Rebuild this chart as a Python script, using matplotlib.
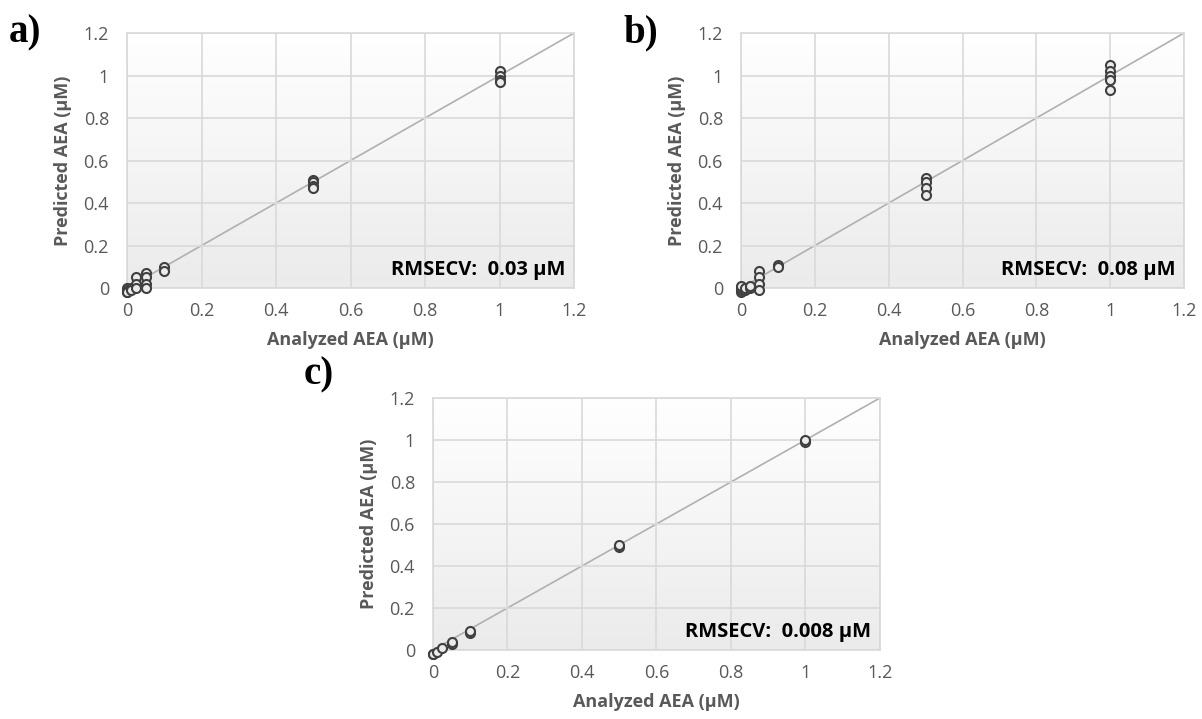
import matplotlib.pyplot as plt
import numpy as np

# Values (analyzed vs predicted AEA, in µM)
a_x = [0, 0, 0, 0, 0.01, 0.01, 0.025, 0.025, 0.025, 0.05, 0.05, 0.05, 0.05, 0.1, 0.1,
       0.5, 0.5, 0.5, 0.5, 1, 1, 1, 1]
a_y = [0.0, -0.01, -0.02, -0.02, 0.0, -0.01, 0.05, 0.02, 0.0, 0.07, 0.05, 0.02, 0.0, 0.1, 0.08,
       0.51, 0.5, 0.48, 0.47, 1.02, 1.0, 0.98, 0.97]

b_x = [0, 0, 0, 0, 0.01, 0.01, 0.025, 0.025, 0.05, 0.05, 0.05, 0.05, 0.1, 0.1,
       0.5, 0.5, 0.5, 0.5, 1, 1, 1, 1, 1]
b_y = [-0.02, -0.01, 0.0, 0.01, -0.01, 0.0, 0.0, 0.01, 0.08, 0.05, 0.02, -0.01, 0.11, 0.1,
       0.52, 0.5, 0.47, 0.44, 1.05, 1.02, 1.0, 0.98, 0.93]

c_x = [0, 0, 0.01, 0.025, 0.05, 0.05, 0.1, 0.1, 0.5, 0.5, 1, 1]
c_y = [-0.02, -0.02, -0.01, 0.01, 0.03, 0.04, 0.08, 0.09, 0.49, 0.5, 0.99, 1.0]

rmsecv = ['RMSECV:  0.03 µM', 'RMSECV:  0.08 µM', 'RMSECV:  0.008 µM']
panel_labels = ['a)', 'b)', 'c)']
ticks = [0, 0.2, 0.4, 0.6, 0.8, 1, 1.2]
tick_labels = ['0', '0.2', '0.4', '0.6', '0.8', '1', '1.2']

plt.rcParams['font.family'] = ['Open Sans', 'DejaVu Sans']

fig = plt.figure(figsize=(12.02, 7.19), dpi=100)
positions = [
    [0.1057, 0.5994, 0.3719, 0.3547],
    [0.6165, 0.5994, 0.3686, 0.3547],
    [0.3602, 0.0960, 0.3719, 0.3505],
]
label_pos = [(-0.265, 1.0), (-0.265, 1.0), (-0.29, 1.09)]
data = [(a_x, a_y), (b_x, b_y), (c_x, c_y)]

grad = np.linspace(1, 0, 256).reshape(-1, 1)
grey = '#595959'
cmap = plt.cm.colors.LinearSegmentedColormap.from_list('g', ['#ebebeb', '#ffffff'])

for i, (pos, (xs, ys)) in enumerate(zip(positions, data)):
    ax = fig.add_axes(pos)
    ax.imshow(grad, extent=[0, 1, 0, 1], transform=ax.transAxes, aspect='auto',
              cmap=cmap, zorder=0)
    ax.set_xlim(0, 1.2)
    ax.set_ylim(0, 1.2)
    ax.set_xticks(ticks)
    ax.set_yticks(ticks)
    ax.set_xticklabels(tick_labels)
    ax.set_yticklabels(tick_labels)
    ax.tick_params(length=0, labelsize=13, labelcolor=grey)
    ax.tick_params(axis='x', pad=10)
    ax.tick_params(axis='y', pad=13)
    ax.grid(True, color='#d9d9d9', linewidth=1.2, zorder=1)
    ax.set_axisbelow(False)
    for s in ax.spines.values():
        s.set_color('#d9d9d9')
        s.set_linewidth(1.2)
    ax.plot([0, 1.2], [0, 1.2], color='#b0b0b0', linewidth=1.2, zorder=2)
    ax.plot(xs, ys, linestyle='none', marker='o', markersize=6.5,
            markerfacecolor='#ececec', markeredgecolor='#404040',
            markeredgewidth=1.5, clip_on=False, zorder=3)
    ax.set_xlabel('Analyzed AEA (µM)', fontsize=13, fontweight='bold', color=grey, labelpad=8)
    ax.set_ylabel('Predicted AEA (µM)', fontsize=13, fontweight='bold', color=grey, labelpad=8)
    ax.text(0.98, 0.07, rmsecv[i], transform=ax.transAxes, ha='right', va='center',
            fontsize=14.5, fontweight='bold', color='black', zorder=4)
    lx, ly = label_pos[i]
    ax.text(lx, ly, panel_labels[i], transform=ax.transAxes, ha='left', va='center',
            fontsize=28, fontweight='bold', family='Liberation Serif')

fig.savefig('out.png', dpi=100)
